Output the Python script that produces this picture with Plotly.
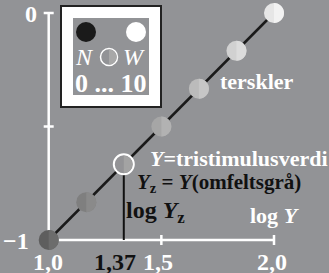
import plotly.graph_objects as go

# data
logY = [1.0, 1.1667, 1.3333, 1.5, 1.6667, 1.8333, 2.0]
resp = [-1.0, -0.8333, -0.6667, -0.5, -0.3333, -0.1667, 0.0]
dot_left = ["#5e5e5e", "#7f7f7f", "#939396", "#a6a6a6", "#bbbbbb", "#d1d1d1", "#e6e6e6"]
dot_right = ["#6c6c6c", "#8a8a8a", "#a3a3a3", "#b2b2b2", "#c6c6c6", "#dcdcdc", "#f2f2f2"]
yz_x = 1.3333
yz_y = -0.6667
xtick_vals = [1.0, 1.3333, 1.5, 2.0]
xtick_text = ["1,0", "1,37", "1,5", "2,0"]
xtick_col = ["white", "#111111", "white", "white"]
xtick_shift = [-1, -9, -3, -2]
ytick_vals = [0.0, -1.0]
ytick_text = ["0", "\u22121"]
ytick_shift = [-10, -18]

BG = "#929396"
W, H = 329, 273
FONT = "Liberation Serif"

def px(x):
    return x / W

def py(y):
    return 1 - y / H

fig = go.Figure()
fig.add_trace(go.Scatter(x=[logY[0], logY[-1]], y=[resp[0], resp[-1]], mode="lines",
                         line=dict(color="#1a1a1a", width=2.5), hoverinfo="skip"))
fig.add_trace(go.Scatter(x=[yz_x, yz_x], y=[yz_y, -1.0], mode="lines",
                         line=dict(color="#111111", width=2), hoverinfo="skip"))
lines_c = list(dot_left)
lines_w = [0] * len(logY)
lines_c[2] = "white"
lines_w[2] = 2
fig.add_trace(go.Scatter(x=logY, y=resp, mode="markers",
                         marker=dict(size=20, color=dot_left, symbol="circle",
                                     line=dict(color=lines_c, width=lines_w)),
                         hoverinfo="skip"))

dxp = 1.0 / 225.3
dyp = 1.0 / 227.0
shapes = []
shapes.append(dict(type="line", xref="x", yref="y", x0=1.0, x1=1.0, y0=0.0, y1=-1.0,
                   line=dict(color="white", width=2.5), layer="below"))
shapes.append(dict(type="line", xref="x", yref="y", x0=1.0, x1=2.0, y0=-1.0, y1=-1.0,
                   line=dict(color="white", width=2.5), layer="below"))
for yv in [0.0, -0.5]:
    shapes.append(dict(type="line", xref="x", yref="y", x0=1.0 - 5 * dxp, x1=1.0 + 5 * dxp, y0=yv, y1=yv,
                       line=dict(color="white", width=2.5), layer="below"))
for xv in [1.5, 2.0]:
    shapes.append(dict(type="line", xref="x", yref="y", x0=xv, x1=xv, y0=-1.0 - 5 * dyp, y1=-1.0 + 5 * dyp,
                       line=dict(color="white", width=2.5), layer="below"))

# right halves of the dots (pixel-sized paths anchored at each data point)
def right_half(r):
    k = 0.5523 * r
    return ("M 0,%g C %g,%g %g,%g %g,0 C %g,%g %g,%g 0,%g Z"
            % (r, k, r, r, k, r, r, -k, k, -r, -r))

for i, (xv, yv, c) in enumerate(zip(logY, resp, dot_right)):
    r = 8.6 if i == 2 else 10
    shapes.append(dict(type="path", xref="x", yref="y", xsizemode="pixel", ysizemode="pixel",
                       xanchor=xv, yanchor=yv, path=right_half(r),
                       fillcolor=c, line=dict(width=0)))

# legend box
shapes.append(dict(type="rect", xref="paper", yref="paper", x0=px(61), x1=px(161), y0=py(6), y1=py(107),
                   fillcolor="white", line=dict(color="#222222", width=2)))
shapes.append(dict(type="rect", xref="paper", yref="paper", x0=px(73), x1=px(149), y0=py(18), y1=py(95),
                   fillcolor=BG, line=dict(width=0)))
shapes.append(dict(type="circle", xref="paper", yref="paper", x0=px(76), x1=px(96), y0=py(22), y1=py(42),
                   fillcolor="#1a1a1a", line=dict(width=0)))
shapes.append(dict(type="circle", xref="paper", yref="paper", x0=px(126), x1=px(146), y0=py(22), y1=py(42),
                   fillcolor="white", line=dict(width=0)))
shapes.append(dict(type="circle", xref="paper", yref="paper", x0=px(100.5), x1=px(117.5), y0=py(48.5), y1=py(65.5),
                   fillcolor=BG, line=dict(color="white", width=1.5)))
shapes.append(dict(type="path", xref="paper", yref="paper", xsizemode="pixel", ysizemode="pixel",
                   xanchor=px(109), yanchor=py(57), path=right_half(7.6),
                   fillcolor="#a8a8a8", line=dict(width=0)))

ann = []
def A(x, y, text, size, color, xanchor="left"):
    ann.append(dict(x=px(x), y=py(y), xref="paper", yref="paper", text=text, showarrow=False,
                    xanchor=xanchor, yanchor="middle",
                    font=dict(family=FONT, size=size, color=color)))

for v, t, c, s in zip(xtick_vals, xtick_text, xtick_col, xtick_shift):
    ann.append(dict(x=v, y=-1.0, xref="x", yref="y", text="<b>%s</b>" % t, showarrow=False,
                    xanchor="center", yanchor="middle", yshift=-22, xshift=s,
                    font=dict(family=FONT, size=24, color=c)))
for v, t, s in zip(ytick_vals, ytick_text, ytick_shift):
    ann.append(dict(x=1.0, y=v, xref="x", yref="y", text="<b>%s</b>" % t, showarrow=False,
                    xanchor="right", yanchor="middle", xshift=s, yshift=-1,
                    font=dict(family=FONT, size=24, color="white")))

A(218, 81, "<b>terskler</b>", 22, "white")
A(148, 158, "<b><i>Y</i>=tristimulusverdi</b>", 22, "white")
A(135, 183, "<b><i>Y</i><sub>z</sub> = <i>Y</i>(omfeltsgrå)</b>", 21, "#111111")
A(124, 212, "<b>log <i>Y</i><sub>z</sub></b>", 24, "#111111")
A(248, 215, "<b>log <i>Y</i></b>", 22, "white")
A(73, 57, "<i>N</i>", 24, "white")
A(121, 57, "<i>W</i>", 24, "white")
A(111, 83, "<b>0 ... 10</b>", 26, "white", xanchor="center")

x0r = 1 - 48.7 / 225.3
x1r = 1 + (W - 48.7) / 225.3
y1r = 13 / 227.0
y0r = -1 - (H - 240) / 227.0

fig.update_layout(
    width=W, height=H, margin=dict(l=0, r=0, t=0, b=0),
    paper_bgcolor=BG, plot_bgcolor=BG, showlegend=False,
    xaxis=dict(range=[x0r, x1r], visible=False, fixedrange=True),
    yaxis=dict(range=[y0r, y1r], visible=False, fixedrange=True),
    shapes=shapes, annotations=ann,
)
fig.write_html("out.html", config={"displayModeBar": False})

with open("out.html", "r", encoding="utf-8") as f:
    html = f.read()
html = html.replace("<head>", "<head><style>html,body{margin:0;padding:0;overflow:hidden;background:%s}</style>" % BG, 1)
with open("out.html", "w", encoding="utf-8") as f:
    f.write(html)
